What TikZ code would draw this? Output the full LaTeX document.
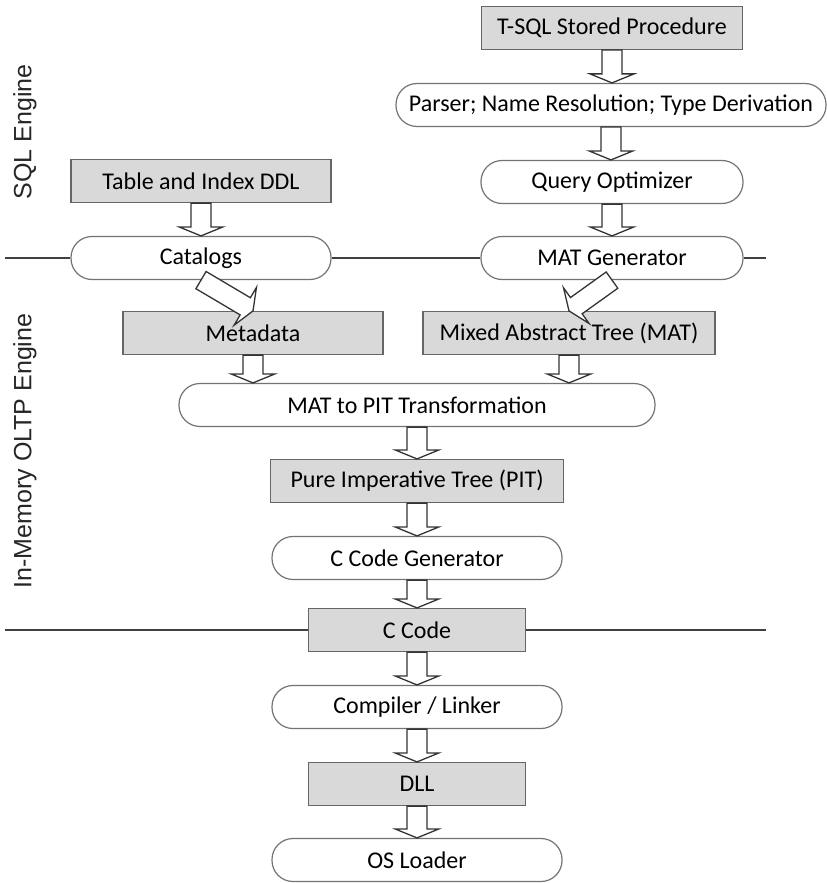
\documentclass[tikz,border=0pt]{standalone}
\usepackage{fontspec}
\setmainfont{Carlito}
\newfontfamily\sidefont{Liberation Sans}
\usepackage{tikz}
\usetikzlibrary{calc}
\tikzset{
  databox/.style  = {draw=black!60, fill=black!15, line width=0.6pt,
                     inner sep=0pt, minimum height=21.5pt,
                     font=\fontsize{12}{14}\selectfont},
  procbox/.style  = {draw=black!55, fill=white, line width=0.6pt,
                     rounded corners=10.5pt, inner sep=0pt, minimum height=21.5pt,
                     font=\fontsize{12}{14}\selectfont},
  blockar/.style  = {draw=black!80, fill=white, line width=0.65pt, line join=miter},
  sepline/.style  = {black!75, line width=0.8pt},
  sidelbl/.style  = {rotate=90, inner sep=0pt, black!85,
                     font=\sidefont\fontsize{12.5}{14}\selectfont}
}
% hollow block arrow from #1 to #2
\newcommand\blockarrow[2]{%
  \path (#1) coordinate (ba-s) (#2) coordinate (ba-t);
  \path ($(ba-t)!4.5pt!(ba-s)$) coordinate (ba-h);
  \draw[blockar] ($(ba-s)!5pt!90:(ba-t)$) -- ($(ba-h)!5pt!90:(ba-t)$)
    -- ($(ba-h)!11pt!90:(ba-t)$) -- (ba-t) -- ($(ba-h)!11pt!-90:(ba-t)$)
    -- ($(ba-h)!5pt!-90:(ba-t)$) -- ($(ba-s)!5pt!-90:(ba-t)$) -- cycle;}

\begin{document}
\begin{tikzpicture}[x=0.5pt,y=-0.5pt]
  \useasboundingbox (0,0) rectangle (826,883);
  % engine labels
  \node[sidelbl] (sqllbl) at (25,132) {SQL Engine};
  \node[sidelbl] (imlbl)  at (25,451) {In-Memory OLTP Engine};
  % SQL engine
  \node[databox,minimum width=130.5pt] (tsql)   at (612,28)  {T-SQL Stored Procedure};
  \node[procbox,minimum width=215pt]   (parser) at (611,105) {Parser; Name Resolution; Type Derivation};
  \node[procbox,minimum width=131pt]   (qopt)   at (612,182) {Query Optimizer};
  \node[procbox,minimum width=131pt]   (matgen) at (612,258) {MAT Generator};
  \node[databox,minimum width=130pt]   (ddl)    at (201,181) {Table and Index DDL};
  \node[procbox,minimum width=130pt]   (catalogs) at (201,258) {Catalogs};
  % in-memory OLTP engine
  \node[databox,minimum width=130pt]   (metadata) at (253,333) {Metadata};
  \node[databox,minimum width=146pt]   (mixed)    at (569,333) {Mixed Abstract Tree (MAT)};
  \node[procbox,minimum width=238pt]   (mat2pit)  at (417,405) {MAT to PIT Transformation};
  \node[databox,minimum width=146.5pt] (pit)      at (417,481) {Pure Imperative Tree (PIT)};
  \node[procbox,minimum width=145pt]   (ccgen)    at (417,558) {C Code Generator};
  \node[databox,minimum width=108.5pt] (ccode)    at (417,630) {C Code};
  \node[procbox,minimum width=145pt]   (compiler) at (417,707) {Compiler / Linker};
  \node[databox,minimum width=108.5pt] (dll)      at (417,784) {DLL};
  \node[procbox,minimum width=145pt]   (osload)   at (417,860) {OS Loader};
  % boundaries
  \coordinate (sepL1) at (5,258);   \coordinate (sepR1) at (766,258);
  \coordinate (sepL2) at (5,630);   \coordinate (sepR2) at (766,630);
  \draw[sepline] (sepL1) -- (catalogs.west) (catalogs.east) -- (matgen.west)
                 (matgen.east) -- (sepR1);
  \draw[sepline] (sepL2) -- (ccode.west) (ccode.east) -- (sepR2);
  % flow
  \foreach \a/\b in {tsql/parser,parser/qopt,qopt/matgen,ddl/catalogs,
                     metadata/mat2pit,mixed/mat2pit,mat2pit/pit,pit/ccgen,
                     ccgen/ccode,ccode/compiler,compiler/dll,dll/osload}
    \blockarrow{\a.south}{\a.south |- \b.north};
  \blockarrow{catalogs.south}{metadata.north};
  \blockarrow{matgen.south}{mixed.north};
\end{tikzpicture}
\end{document}
